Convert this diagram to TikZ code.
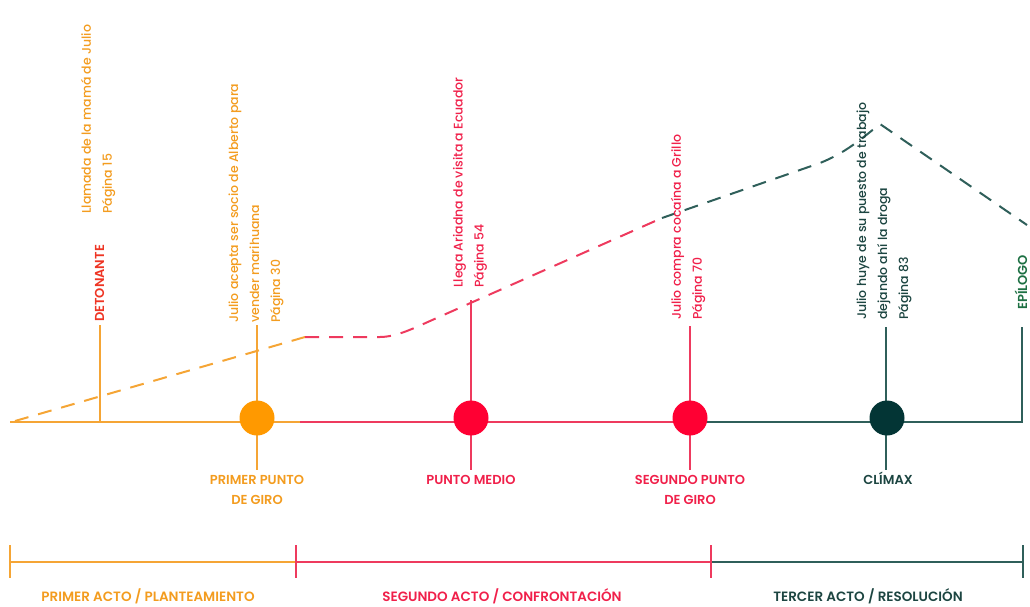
\documentclass[tikz,border=0pt]{standalone}
\usepackage{fontspec}
\setmainfont{Poppins}[UprightFont=* Medium, BoldFont=* SemiBold]
\definecolor{orln}{HTML}{F5A535}
\definecolor{orcirc}{HTML}{FF9900}
\definecolor{ortx}{HTML}{F39C1F}
\definecolor{rdln}{HTML}{EE3A5E}
\definecolor{rdcirc}{HTML}{FF0033}
\definecolor{rdtx}{HTML}{F0204A}
\definecolor{deto}{HTML}{EE3524}
\definecolor{tlln}{HTML}{2F5F5A}
\definecolor{dkcirc}{HTML}{033535}
\definecolor{dktx}{HTML}{1C4541}
\definecolor{epi}{HTML}{1D7043}
\tikzset{
  ln/.style={line width=2pt},
  dsh/.style={line width=2pt, dash pattern=on 14pt off 10pt},
  dot/.style={circle, minimum size=35pt, inner sep=0pt},
  vtext/.style={rotate=90, anchor=west, inner sep=0pt, align=left, font=\fontsize{12.5}{21}\selectfont},
  vbold/.style={rotate=90, anchor=base west, inner sep=0pt, font=\bfseries\fontsize{13}{16}\selectfont},
  blab/.style={anchor=base, inner sep=0pt, align=center, font=\bfseries\fontsize{13}{20}\selectfont},
  actlab/.style={anchor=base, inner sep=0pt, font=\bfseries\fontsize{13.5}{16}\selectfont},
}
\begin{document}
\begin{tikzpicture}[x=1pt,y=-1pt]
\useasboundingbox (0,0) rectangle (1030,606);
% coordinates
\coordinate (s) at (10,422);
\coordinate (a1) at (300,422);
\coordinate (a2) at (690,422);
\coordinate (e) at (1022,422);
\coordinate (etop) at (1022,327);
% main timeline
\draw[ln, orln] (s) -- (a1);
\draw[ln, rdln] (a1) -- (a2);
\draw[ln, tlln] (a2) -- (e) -- (etop);
% sticks
\coordinate (d0) at (100,422); \coordinate (d1) at (100,325);
\draw[ln, orln] (d0) -- (d1);
\coordinate (p1t) at (257,325); \coordinate (p1b) at (257,470);
\draw[ln, orln] (p1t) -- (p1b);
\coordinate (p2t) at (471,300); \coordinate (p2b) at (471,470);
\draw[ln, rdln] (p2t) -- (p2b);
\coordinate (p3t) at (690,326); \coordinate (p3b) at (690,470);
\draw[ln, rdln] (p3t) -- (p3b);
\coordinate (p4t) at (886,327); \coordinate (p4b) at (886,470);
\draw[ln, tlln] (p4t) -- (p4b);
% dashed tension curve
\coordinate (c0) at (15,421);
\coordinate (c1) at (305,337);
\coordinate (c2) at (380,337);
\coordinate (c3) at (662,218);
\coordinate (c4) at (880,124);
\coordinate (c5) at (1027,225);
\draw[dsh, orln] (c0) -- (c1);
\draw[dsh, rdln] (c1) -- (c2) .. controls (395,337) and (410,330) .. (430,321) -- (c3);
\draw[dsh, tlln] (c3) -- (820,163) .. controls (845,153) and (860,140) .. (c4) -- (c5);
% circles
\node[dot, fill=orcirc] (n1) at (257,418) {};
\node[dot, fill=rdcirc] (n2) at (471,418) {};
\node[dot, fill=rdcirc] (n3) at (690,418) {};
\node[dot, fill=dkcirc] (n4) at (887,418) {};
% vertical texts
\node[vtext, ortx] (t0) at (98,214) {Llamada de la mamá de Julio\\Página 15};
\node[vbold, deto] (det) at (104,322) {DETONANTE};
\node[vtext, ortx] (t1) at (256,323) {Julio acepta ser socio de Alberto para\\vender marihuana\\Página 30};
\node[vtext, rdtx] (t2) at (470,288) {Llega Ariadna de visita a Ecuador\\Página 54};
\node[vtext, rdtx] (t3) at (688,320) {Julio compra cocaína a Grillo\\Página 70};
\node[vtext, dktx] (t4) at (884,320) {Julio huye de su puesto de trabajo\\dejando ahí la droga\\Página 83};
\node[vbold, epi] (ep) at (1027,310) {EPÍLOGO};
% bottom labels
\node[blab, ortx] (l1) at (257,504) {PRIMER PUNTO\\DE GIRO};
\node[blab, rdtx] (l2) at (471,484) {PUNTO MEDIO};
\node[blab, rdtx] (l3) at (690,504) {SEGUNDO PUNTO\\DE GIRO};
\node[blab, dktx] (l4) at (888,484) {CLÍMAX};
% acts bracket
\coordinate (b0) at (10,562); \coordinate (b1) at (296,562);
\coordinate (b2) at (711,562); \coordinate (b3) at (1023,562);
\draw[ln, orln] (b0) -- (b1);
\draw[ln, rdln] (b1) -- (b2);
\draw[ln, tlln] (b2) -- (b3);
\draw[ln, orln] (10,545) -- (10,578);
\draw[ln, rdln] (296,545) -- (296,578);
\draw[ln, rdln] (711,545) -- (711,578);
\draw[ln, tlln] (1023,545) -- (1023,578);
\node[actlab, ortx] (act1) at (148,601) {PRIMER ACTO / PLANTEAMIENTO};
\node[actlab, rdtx] (act2) at (502,601) {SEGUNDO ACTO / CONFRONTACIÓN};
\node[actlab, dktx] (act3) at (868,601) {TERCER ACTO / RESOLUCIÓN};
\end{tikzpicture}
\end{document}
